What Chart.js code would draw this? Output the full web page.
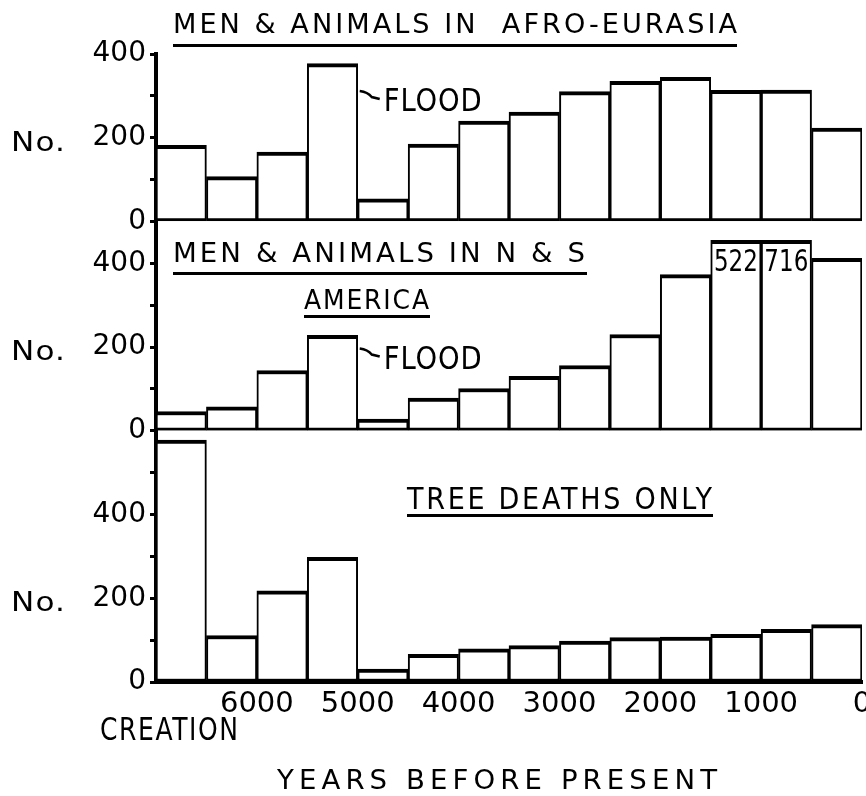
<!DOCTYPE html>
<html>
<head>
<meta charset="utf-8">
<title>Men & Animals / Tree deaths</title>
<script src="https://cdn.jsdelivr.net/npm/chart.js@4/dist/chart.umd.min.js"></script>
<style>
    html, body { margin: 0; padding: 0; background: #fff; }
    #wrap { width: 866px; height: 796px; position: relative; }
</style>
</head>
<body>
<div id="wrap"><canvas id="chart"></canvas></div>
<script>
// 500-year bins, from creation (7000) to present (0)
const binCenters = [6750, 6250, 5750, 5250, 4750, 4250, 3750, 3250, 2750, 2250, 1750, 1250, 750, 250];

const afroEurasia = [182, 107, 166, 377, 54, 185, 240, 261, 310, 335, 344, 313, 314, 223];
const america = [46, 57, 144, 228, 28, 78, 101, 130, 156, 230, 373, 522, 716, 412];
const treeDeaths = [578, 111, 218, 298, 31, 66, 79, 87, 98, 106, 107, 114, 126, 137];

const xTicks = [7000, 6000, 5000, 4000, 3000, 2000, 1000, 0];
const yTicksTop = [0, 100, 200, 300, 400];
const yTicksMid = [0, 100, 200, 300, 400];
const yTicksLow = [0, 100, 200, 300, 400, 500];

const Y1_MAX = 400;
const Y2_MAX = 500;
const Y3_MAX = 600;
const Y2_CAP = 455;   // off-scale bars are broken here and labelled with their count

const AXIS_LEFT = 156;
const BOTTOM_H = 114;

Chart.defaults.font.family = '"DejaVu Sans", sans-serif';
Chart.defaults.color = '#000';

function fitText(ctx, text, left, baseline, width, cap, spacing) {
    ctx.save();
    ctx.font = Math.round(cap / 0.73) + 'px "DejaVu Sans"';
    ctx.letterSpacing = (spacing || 0) + 'px';
    const w = ctx.measureText(text).width - (spacing || 0);
    ctx.translate(left, baseline);
    ctx.scale(width / w, 1);
    ctx.textAlign = 'left';
    ctx.textBaseline = 'alphabetic';
    ctx.fillStyle = '#000';
    ctx.fillText(text, 0, 0);
    ctx.restore();
}

function underline(ctx, left, y, width) {
    ctx.fillStyle = '#000';
    ctx.fillRect(left, y, width, 3);
}

function floodNote(ctx, xEdge, yMid) {
    ctx.save();
    ctx.strokeStyle = '#000';
    ctx.lineWidth = 2.5;
    ctx.beginPath();
    ctx.moveTo(xEdge + 2, yMid - 9);
    ctx.quadraticCurveTo(xEdge + 10, yMid - 8, xEdge + 14, yMid - 3);
    ctx.lineTo(xEdge + 22, yMid - 1);
    ctx.stroke();
    ctx.restore();
    fitText(ctx, 'FLOOD', xEdge + 26, yMid + 11, 98, 23, 1);
}

const notesPlugin = {
    id: 'notes',
    afterDraw(chart) {
        const ctx = chart.ctx;
        const x = chart.scales.x;
        const y1 = chart.scales.y1, y2 = chart.scales.y2, y3 = chart.scales.y3;

        // panel titles
        fitText(ctx, 'MEN & ANIMALS IN  AFRO-EURASIA', 173, 33, 564, 20, 3);
        underline(ctx, 173, 44, 564);
        fitText(ctx, 'MEN & ANIMALS IN N & S', 173, 262, 412, 20, 3);
        underline(ctx, 173, 272, 414);
        fitText(ctx, 'AMERICA', 304, 309, 125, 20, 2);
        underline(ctx, 304, 315, 126);
        fitText(ctx, 'TREE DEATHS ONLY', 407, 509, 305, 22, 3);
        underline(ctx, 407, 514, 306);

        // "No." beside each y axis
        [y1, y2, y3].forEach(s => {
            const yc = s.getPixelForValue(200) + 4;
            fitText(ctx, 'No.', 11, yc + 9, 54, 19, 1);
        });

        // flood markers
        const edge = x.getPixelForValue(5000);
        floodNote(ctx, edge, y1.getPixelForValue(290));
        floodNote(ctx, edge, y2.getPixelForValue(175));

        // counts of the broken bars
        binCenters.forEach((c, i) => {
            if (america[i] > Y2_CAP) {
                const cx = x.getPixelForValue(c);
                const top = y2.getPixelForValue(Y2_CAP);
                fitText(ctx, String(america[i]), cx - 22, top + 31, 44, 22, 0);
            }
        });

        fitText(ctx, 'CREATION', 100, 740, 138, 23, 2);
        fitText(ctx, 'YEARS BEFORE PRESENT', 277, 789, 440, 20, 5);
    }
};

function yAxis(max, tickValues) {
    return {
        type: 'linear',
        position: 'left',
        stack: 'panels',
        stackWeight: max,
        min: 0,
        max: max,
        afterBuildTicks: s => { s.ticks = tickValues.map(v => ({ value: v })); },
        afterFit: s => { s.width = AXIS_LEFT; },
        ticks: {
            callback: v => (v % 200 === 0 ? String(v) : ''),
            font: { size: 28 },
            color: '#000',
            padding: 4,
            autoSkip: false
        },
        grid: { drawOnChartArea: false, tickLength: 6, tickWidth: 3, tickColor: '#000' },
        border: { display: true, color: '#000', width: 4 }
    };
}

function panel(values, axisId, cap) {
    return {
        data: binCenters.map((c, i) => ({ x: c, y: cap ? Math.min(values[i], cap) : values[i] })),
        yAxisID: axisId,
        backgroundColor: '#fff',
        borderColor: '#000',
        borderWidth: { top: 4, bottom: 3, left: 2, right: 2 },
        borderSkipped: false,
        barPercentage: 1,
        categoryPercentage: 1,
        grouped: false
    };
}

new Chart(document.getElementById('chart'), {
    type: 'bar',
    data: {
        datasets: [
            panel(afroEurasia, 'y1'),
            panel(america, 'y2', Y2_CAP),
            panel(treeDeaths, 'y3')
        ]
    },
    options: {
        responsive: true,
        maintainAspectRatio: false,
        animation: false,
        layout: { padding: { top: 54, right: 4, left: 0, bottom: 0 } },
        plugins: { legend: { display: false }, tooltip: { enabled: false } },
        scales: {
            x: {
                type: 'linear',
                reverse: true,
                min: 0,
                max: 7000,
                offset: false,
                afterBuildTicks: s => { s.ticks = xTicks.map(v => ({ value: v })); },
                afterFit: s => { s.height = BOTTOM_H; s.paddingLeft = 0; s.paddingRight = 0; },
                ticks: {
                    callback: v => (v === 7000 ? '' : String(v)),
                    font: { size: 29 },
                    color: '#000',
                    padding: 5,
                    maxRotation: 0,
                    autoSkip: false
                },
                grid: { display: false, drawTicks: false },
                border: { display: true, color: '#000', width: 4 }
            },
            // stacked panels are laid out bottom-up in the order they are declared
            y3: yAxis(Y3_MAX, yTicksLow),
            y2: yAxis(Y2_MAX, yTicksMid),
            y1: yAxis(Y1_MAX, yTicksTop)
        }
    },
    plugins: [notesPlugin]
});
</script>
</body>
</html>
